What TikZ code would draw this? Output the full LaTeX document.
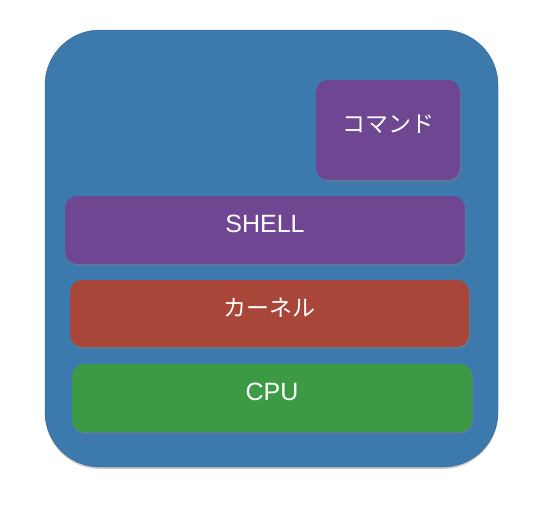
\documentclass[tikz,border=0pt]{standalone}
\usepackage{fontspec}
\setmainfont{Liberation Sans}
\newfontfamily\jpfont{Noto Sans CJK JP}
\usetikzlibrary{positioning,shadows}
\definecolor{panelblue}{RGB}{60,122,174}
\definecolor{layerpurple}{RGB}{111,70,146}
\definecolor{layerred}{RGB}{168,70,58}
\definecolor{layergreen}{RGB}{60,154,68}
\tikzset{
    panel/.style={
        rectangle,
        rounded corners=55pt,
        fill=panelblue,
        draw=panelblue!80!black, thin,
        minimum width=453pt,
        minimum height=437pt,
        drop shadow={opacity=0.4, shadow xshift=0pt, shadow yshift=-2pt}
    },
    layer/.style={
        rectangle,
        rounded corners=12pt,
        text=white,
        font=\fontsize{25}{29}\selectfont,
        inner sep=0pt,
        text depth=12pt,
        minimum height=68pt,
        drop shadow={opacity=0.5, shadow xshift=1pt, shadow yshift=-1.5pt}
    }
}
\begin{document}
\begin{tikzpicture}[x=1pt, y=-1pt,
            command/.style={layer, fill=layerpurple, minimum width=144pt, minimum height=100pt},
            shell/.style={layer, fill=layerpurple, minimum width=400pt},
            kernel/.style={layer, fill=layerred, minimum width=399pt, minimum height=67pt},
            cpu/.style={layer, fill=layergreen, minimum width=400pt}]
    \useasboundingbox (0,0) rectangle (552,507);
    \node[panel] (frame) at (271.5,248.5) {};
    \node[command] (cmd) at (388,130) {\jpfont\fontsize{23}{27}\selectfont コマンド};
    \node[shell] (shell) at (265,230) {SHELL};
    \node[kernel] (kern) at (269.5,313.5) {\jpfont\fontsize{23}{27}\selectfont カーネル};
    \node[cpu] (cpu) at (272,398) {CPU};
\end{tikzpicture}
\end{document}
